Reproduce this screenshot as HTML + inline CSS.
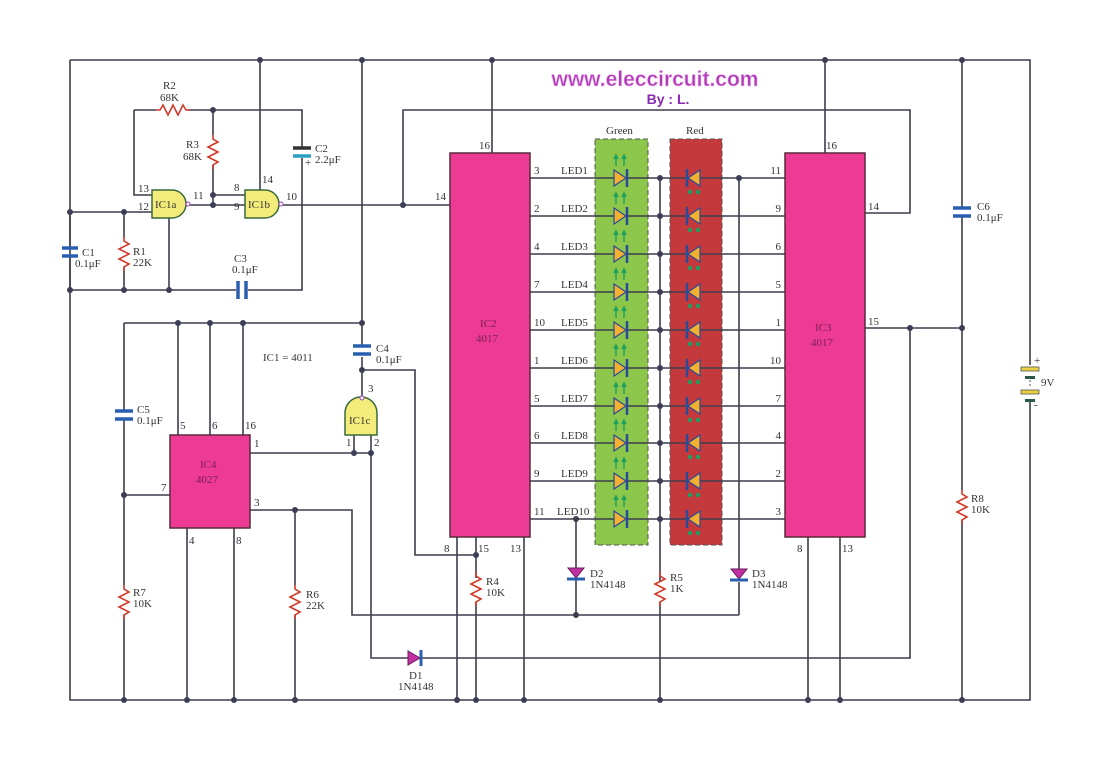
<!DOCTYPE html>
<html><head><meta charset="utf-8"><style>
html,body{margin:0;padding:0;background:#fff;}
svg{display:block;font-family:"Liberation Serif",serif;}
.w{stroke:#3d3d4d;stroke-width:1.6;fill:none}
.r{stroke:#d03a2a;stroke-width:1.6;fill:none}
.c{stroke:#2a5fb0;stroke-width:3.5}
.ic{fill:#ec3a95;stroke:#5a2a3a;stroke-width:1.5}
.g{fill:#f3ec7a;stroke:#3a6a3a;stroke-width:1.5}
text{font-size:11px;fill:#333}
.lt{font-size:11px;fill:#7a2050}
</style></head><body>
<svg width="1100" height="757" viewBox="0 0 1100 757">
<defs>
<g id="rv"><path d="M0,0 l0,4 l5,3 l-10,5 l10,5 l-10,5 l10,5 l-5,3 l0,4" class="r"/></g>
<g id="rh"><path d="M0,0 l4,0 l3,-5 l5,10 l5,-10 l5,10 l5,-10 l3,5 l4,0" class="r"/></g>
<g id="gl"><polygon points="-6,-8 6,0 -6,8" fill="#f5b030" stroke="#2a4a9a" stroke-width="1.2"/><line x1="7" y1="-9" x2="7" y2="9" stroke="#2a4a9a" stroke-width="2.5"/>
<path d="M-4,-12 v-10 M-6,-19 l2,-4 l2,4 M4,-12 v-10 M2,-19 l2,-4 l2,4" stroke="#1aa060" stroke-width="1.4" fill="#1aa060"/></g>
<g id="rl"><polygon points="6,-8 -6,0 6,8" fill="#f5b030" stroke="#2a4a9a" stroke-width="1.2"/><line x1="-7" y1="-9" x2="-7" y2="9" stroke="#2a4a9a" stroke-width="2.5"/>
<circle cx="-4" cy="14" r="2.2" fill="#1aa060"/><circle cx="4" cy="14" r="2.2" fill="#1aa060"/></g>
</defs>

<!-- boxes -->
<rect x="595" y="139" width="53" height="406" fill="#8cc64a" stroke="#555" stroke-dasharray="5,3"/>
<rect x="670" y="139" width="52" height="406" fill="#c4393c" stroke="#555" stroke-dasharray="5,3"/>
<text x="606" y="134">Green</text><text x="686" y="134">Red</text>

<!-- rails -->
<path class="w" d="M70,60 H1030 V365 M1030,402 V700 H70 V60"/>
<!-- left oscillator -->
<path class="w" d="M70,212 H152 M70,290 H236 M248,290 H302 V158 M302,148 V110 H213 M134,110 H156 M188,110 H213 M134,110 V195 H152 M213,110 V135 M213,165 V195 H245 M186,205 H245 M213,195 V205 M169,218 V290 M124,212 V237 M124,267 V290 M70,212 V246 M70,258 V290 M260,60 V190 M279,205 H450"/>
<use href="#rh" x="156" y="110"/><use href="#rv" x="213" y="135"/><use href="#rv" x="124" y="237"/>
<line class="c" x1="62" y1="248" x2="78" y2="248"/><line class="c" x1="62" y1="256" x2="78" y2="256"/>
<line x1="293" y1="148" x2="311" y2="148" stroke="#333" stroke-width="3.5"/><line class="c" x1="293" y1="156" x2="311" y2="156" style="stroke:#2aa0c0"/>
<text x="305" y="166" font-size="9">+</text>
<line class="c" x1="238" y1="281" x2="238" y2="299"/><line class="c" x1="246" y1="281" x2="246" y2="299"/>
<path class="g" d="M152,190 H172 A14,14 0 0 1 172,218 H152 Z"/>
<path class="g" d="M245,190 H265 A14,14 0 0 1 265,218 H245 Z"/>
<circle cx="188" cy="204" r="2" fill="#fff" stroke="#a040c0"/><circle cx="281" cy="204" r="2" fill="#fff" stroke="#a040c0"/>
<text x="155" y="208" font-size="12">IC1a</text><text x="248" y="208" font-size="12">IC1b</text>
<text x="138" y="192">13</text><text x="138" y="210">12</text><text x="193" y="199">11</text><text x="234" y="191">8</text><text x="234" y="210">9</text><text x="262" y="183">14</text><text x="286" y="200">10</text>
<text x="163" y="89">R2</text><text x="160" y="101">68K</text>
<text x="186" y="148">R3</text><text x="183" y="160">68K</text>
<text x="315" y="152">C2</text><text x="315" y="163">2.2μF</text>
<text x="82" y="256">C1</text><text x="75" y="267">0.1μF</text>
<text x="133" y="255">R1</text><text x="133" y="266">22K</text>
<text x="234" y="262">C3</text><text x="232" y="273">0.1μF</text>
<g fill="#3d3d55"><circle cx="70" cy="212" r="3"/><circle cx="124" cy="212" r="3"/><circle cx="70" cy="290" r="3"/><circle cx="124" cy="290" r="3"/><circle cx="169" cy="290" r="3"/><circle cx="213" cy="110" r="3"/><circle cx="213" cy="195" r="3"/><circle cx="213" cy="205" r="3"/><circle cx="260" cy="60" r="3"/><circle cx="362" cy="60" r="3"/><circle cx="492" cy="60" r="3"/><circle cx="825" cy="60" r="3"/><circle cx="962" cy="60" r="3"/><circle cx="403" cy="205" r="3"/></g>

<!-- feedback loop -->
<path class="w" d="M403,205 V110 H910 V213 H865 M492,60 V153 M825,60 V153"/>

<!-- IC4 area -->
<path class="w" d="M362,60 V345 M362,357 V398 M124,323 H362 M178,323 V435 M210,323 V435 M243,323 V435 M124,323 V410 M124,420 V585 M124,615 V700 M124,495 H170 M187,528 V700 M234,528 V700 M250,453 H371 M354,435 V453 M371,435 V658 H408 M422,658 H910 V328 M250,510 H352 V615 H739 M295,510 V585 M295,615 V700 M362,370 H415 V555 H476 M457,537 V700 M476,537 V578 M476,602 V700 M524,537 V700"/>
<use href="#rv" x="124" y="585"/><use href="#rv" x="295" y="585"/><use href="#rv" x="476" y="572"/>
<line class="c" x1="353" y1="346" x2="371" y2="346"/><line class="c" x1="353" y1="354" x2="371" y2="354"/>
<line class="c" x1="115" y1="411" x2="133" y2="411"/><line class="c" x1="115" y1="419" x2="133" y2="419"/>
<rect class="ic" x="170" y="435" width="80" height="93"/>
<text x="200" y="468" class="lt">IC4</text><text x="196" y="483" class="lt">4027</text>
<path class="g" d="M345,435 V413 A16,16 0 0 1 377,413 V435 Z"/>
<circle cx="362" cy="398" r="2" fill="#fff" stroke="#a040c0"/>
<text x="349" y="424" font-size="9">IC1c</text>
<text x="368" y="392">3</text><text x="346" y="446">1</text><text x="374" y="446">2</text>
<text x="180" y="429">5</text><text x="212" y="429">6</text><text x="245" y="429">16</text><text x="254" y="447">1</text><text x="161" y="491">7</text><text x="254" y="506">3</text><text x="189" y="544">4</text><text x="236" y="544">8</text>
<text x="263" y="361" font-size="12">IC1 = 4011</text>
<text x="376" y="352">C4</text><text x="376" y="363">0.1μF</text>
<text x="137" y="413">C5</text><text x="137" y="424">0.1μF</text>
<text x="133" y="596">R7</text><text x="133" y="607">10K</text>
<text x="306" y="598">R6</text><text x="306" y="609">22K</text>
<text x="486" y="585">R4</text><text x="486" y="596">10K</text>
<polygon points="408,651 408,665 420,658" fill="#c030a0" stroke="#6a1a5a"/><line x1="421" y1="650" x2="421" y2="666" stroke="#2a5fb0" stroke-width="3"/>
<text x="409" y="679">D1</text><text x="398" y="690">1N4148</text>
<g fill="#3d3d55"><circle cx="362" cy="323" r="3"/><circle cx="178" cy="323" r="3"/><circle cx="210" cy="323" r="3"/><circle cx="243" cy="323" r="3"/><circle cx="362" cy="370" r="3"/><circle cx="354" cy="453" r="3"/><circle cx="371" cy="453" r="3"/><circle cx="124" cy="495" r="3"/><circle cx="295" cy="510" r="3"/><circle cx="476" cy="555" r="3"/><circle cx="576" cy="519" r="3"/><circle cx="576" cy="615" r="3"/>
<circle cx="124" cy="700" r="3"/><circle cx="187" cy="700" r="3"/><circle cx="234" cy="700" r="3"/><circle cx="295" cy="700" r="3"/><circle cx="457" cy="700" r="3"/><circle cx="476" cy="700" r="3"/><circle cx="524" cy="700" r="3"/><circle cx="660" cy="700" r="3"/><circle cx="808" cy="700" r="3"/><circle cx="840" cy="700" r="3"/><circle cx="962" cy="700" r="3"/></g>

<!-- row wires -->
<path class="w" d="M530,178 H785 M530,216 H785 M530,254 H785 M530,292 H785 M530,330 H785 M530,368 H785 M530,406 H785 M530,443 H785 M530,481 H785 M530,519 H785 M660,178 V582 M660,602 V700 M739,178 V570 M739,582 V615 M576,519 V568 M576,580 V615 M808,537 V700 M840,537 V700 M865,328 H962 M962,60 V207 M962,217 V490 M962,520 V700"/>
<use href="#rv" x="660" y="572"/><use href="#rv" x="962" y="490"/>
<polygon points="568,568 584,568 576,578" fill="#c030a0" stroke="#6a1a5a"/><line x1="567" y1="579" x2="585" y2="579" stroke="#2a5fb0" stroke-width="3"/>
<polygon points="731,569 747,569 739,579" fill="#c030a0" stroke="#6a1a5a"/><line x1="730" y1="580" x2="748" y2="580" stroke="#2a5fb0" stroke-width="3"/>
<text x="590" y="577">D2</text><text x="590" y="588">1N4148</text>
<text x="670" y="581">R5</text><text x="670" y="592">1K</text>
<text x="752" y="577">D3</text><text x="752" y="588">1N4148</text>
<line class="c" x1="953" y1="208" x2="971" y2="208"/><line class="c" x1="953" y1="216" x2="971" y2="216"/>
<text x="977" y="210">C6</text><text x="977" y="221">0.1μF</text>
<text x="971" y="502">R8</text><text x="971" y="513">10K</text>
<!-- battery -->
<rect x="1021" y="367" width="18" height="4" fill="#e8d040" stroke="#555" stroke-width="0.8"/>
<rect x="1025" y="376" width="10" height="3" fill="#2a5a4a"/>
<line x1="1030" y1="380" x2="1030" y2="388" stroke="#555" stroke-dasharray="2,2"/>
<rect x="1021" y="390" width="18" height="4" fill="#e8d040" stroke="#555" stroke-width="0.8"/>
<rect x="1025" y="399" width="10" height="3" fill="#2a5a4a"/>
<text x="1034" y="364" font-size="10">+</text><text x="1034" y="408" font-size="10">-</text>
<text x="1041" y="386">9V</text>
<g fill="#3d3d55"><circle cx="962" cy="328" r="3"/><circle cx="910" cy="328" r="3"/>
<circle cx="660" cy="178" r="3"/><circle cx="660" cy="216" r="3"/><circle cx="660" cy="254" r="3"/><circle cx="660" cy="292" r="3"/><circle cx="660" cy="330" r="3"/><circle cx="660" cy="368" r="3"/><circle cx="660" cy="406" r="3"/><circle cx="660" cy="443" r="3"/><circle cx="660" cy="481" r="3"/><circle cx="660" cy="519" r="3"/><circle cx="739" cy="178" r="3"/></g>

<!-- LEDs -->
<use href="#gl" x="620" y="178"/><use href="#gl" x="620" y="216"/><use href="#gl" x="620" y="254"/><use href="#gl" x="620" y="292"/><use href="#gl" x="620" y="330"/><use href="#gl" x="620" y="368"/><use href="#gl" x="620" y="406"/><use href="#gl" x="620" y="443"/><use href="#gl" x="620" y="481"/><use href="#gl" x="620" y="519"/>
<use href="#rl" x="694" y="178"/><use href="#rl" x="694" y="216"/><use href="#rl" x="694" y="254"/><use href="#rl" x="694" y="292"/><use href="#rl" x="694" y="330"/><use href="#rl" x="694" y="368"/><use href="#rl" x="694" y="406"/><use href="#rl" x="694" y="443"/><use href="#rl" x="694" y="481"/><use href="#rl" x="694" y="519"/>

<!-- IC2 / IC3 -->
<rect class="ic" x="450" y="153" width="80" height="384"/>
<rect class="ic" x="785" y="153" width="80" height="384"/>
<text x="480" y="327" class="lt">IC2</text><text x="476" y="342" class="lt">4017</text>
<text x="815" y="331" class="lt">IC3</text><text x="811" y="346" class="lt">4017</text>
<text x="479" y="149">16</text><text x="435" y="200">14</text><text x="444" y="552">8</text><text x="478" y="552">15</text><text x="510" y="552">13</text>
<text x="826" y="149">16</text><text x="868" y="210">14</text><text x="868" y="325">15</text><text x="797" y="552">8</text><text x="842" y="552">13</text>
<g><text x="534" y="174">3</text><text x="534" y="212">2</text><text x="534" y="250">4</text><text x="534" y="288">7</text><text x="534" y="326">10</text><text x="534" y="364">1</text><text x="534" y="402">5</text><text x="534" y="439">6</text><text x="534" y="477">9</text><text x="534" y="515">11</text></g>
<g><text x="561" y="174">LED1</text><text x="561" y="212">LED2</text><text x="561" y="250">LED3</text><text x="561" y="288">LED4</text><text x="561" y="326">LED5</text><text x="561" y="364">LED6</text><text x="561" y="402">LED7</text><text x="561" y="439">LED8</text><text x="561" y="477">LED9</text><text x="557" y="515">LED10</text></g>
<g text-anchor="end"><text x="781" y="174">11</text><text x="781" y="212">9</text><text x="781" y="250">6</text><text x="781" y="288">5</text><text x="781" y="326">1</text><text x="781" y="364">10</text><text x="781" y="402">7</text><text x="781" y="439">4</text><text x="781" y="477">2</text><text x="781" y="515">3</text></g>

<!-- title -->
<text x="655" y="86" text-anchor="middle" style="font-family:'Liberation Sans',sans-serif;font-size:21px;font-weight:bold;fill:#b03ab8;stroke:#f0c0f0;stroke-width:0.6">www.eleccircuit.com</text>
<text x="668" y="104" text-anchor="middle" style="font-family:'Liberation Sans',sans-serif;font-size:14px;font-weight:bold;fill:#8a2ab0">By : L.</text>
</svg>
</body></html>
